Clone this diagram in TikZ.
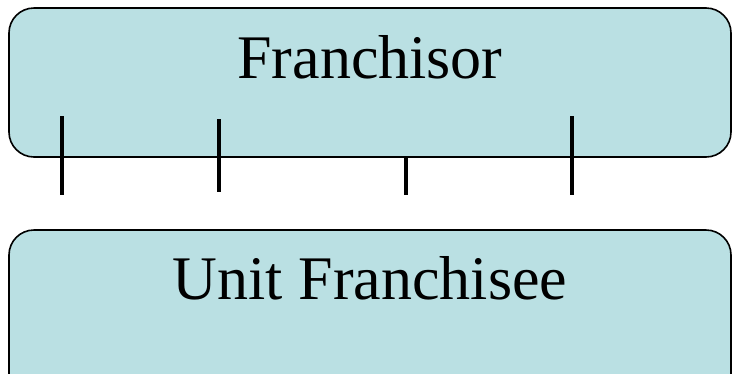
\documentclass[tikz,border=0pt]{standalone}
\usepackage{fontspec}
\setmainfont{Liberation Serif}
\definecolor{boxfill}{HTML}{BAE0E3}

\begin{document}
\begin{tikzpicture}[x=1pt, y=-1pt,
    partybox/.style={draw=black, line width=1.6pt, fill=boxfill, rounded corners=25pt},
    tick/.style={line width=3.6pt}]
    \useasboundingbox (0,0) rectangle (741,373);
    \clip (0,0) rectangle (741,373);

    % Franchisor box
    \draw[partybox] (9,8) rectangle (731,157);
    \node[font=\fontsize{62}{70}\selectfont] (franchisor) at (370,57) {Franchisor};

    % Unit franchisee box (runs off the bottom)
    \draw[partybox] (9,230) rectangle (731,420);
    \node[font=\fontsize{62}{70}\selectfont] (unit) at (370,278) {Unit Franchisee};

    % Ticks
    \draw[tick] (62,116) -- (62,195);
    \draw[tick] (219,119) -- (219,192);
    \draw[tick] (406,157) -- (406,195);
    \draw[tick] (572,116) -- (572,195);
\end{tikzpicture}
\end{document}
